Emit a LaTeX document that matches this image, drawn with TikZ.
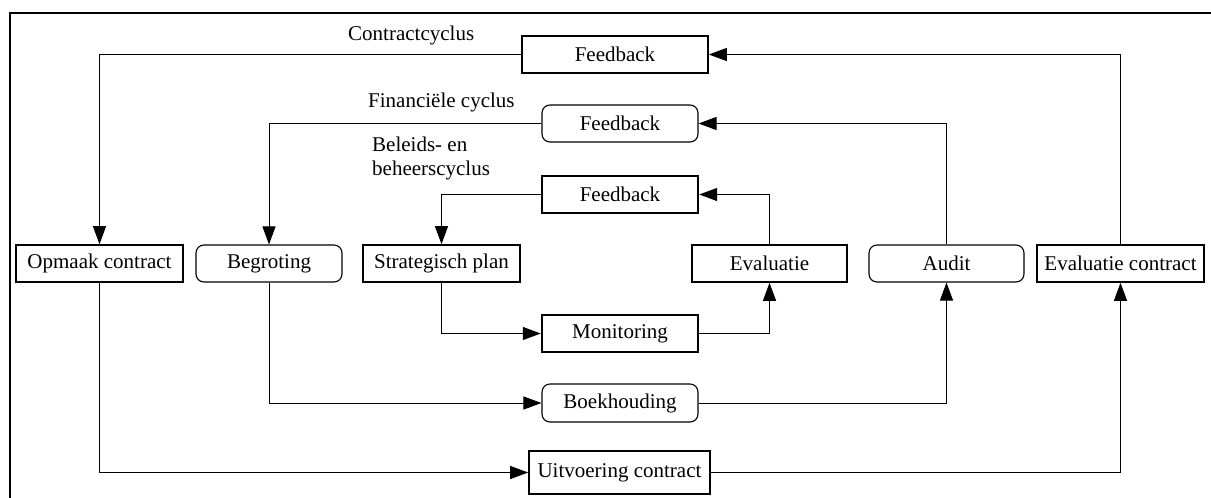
\documentclass[tikz,border=0pt]{standalone}
\usepackage{fontspec}
\setmainfont{Liberation Serif}
\usetikzlibrary{arrows.meta}
\begin{document}
\begin{tikzpicture}[x=1pt,y=-1pt,
  font=\fontsize{21}{24}\selectfont,
  sbox/.style={draw,line width=1.6pt,inner sep=0pt,minimum height=37pt},
  rbox/.style={draw,line width=1.1pt,rounded corners=8pt,inner sep=0pt,minimum height=37pt},
  tbox/.style={sbox,line width=2.4pt},
  conn/.style={line width=1pt,-{Triangle[length=18pt,width=13pt]}},
  lbl/.style={anchor=base west,inner sep=0pt}]
\useasboundingbox (0,0) rectangle (1211,498);
\begin{scope}
\clip (0,0) rectangle (1211,498);
\draw[line width=2pt] (10,13) rectangle (1230,520);
\end{scope}
% main row
\node[sbox,minimum width=167pt] (op) at (99.5,263.5) {Opmaak contract};
\node[rbox,minimum width=146pt] (beg) at (269,263.5) {Begroting};
\node[sbox,minimum width=157pt] (sp) at (441.5,263.5) {Strategisch plan};
\node[sbox,minimum width=155pt] (ev) at (769.5,263.5) {Evaluatie};
\node[rbox,minimum width=155pt] (au) at (946.5,263.5) {Audit};
\node[sbox,minimum width=167pt] (ec) at (1120.5,263.5) {Evaluatie contract};
% feedback boxes
\node[sbox,minimum width=186pt] (fb1) at (615,54.5) {Feedback};
\node[rbox,minimum width=156pt] (fb2) at (620,123.5) {Feedback};
\node[tbox,minimum width=156pt] (fb3) at (620,194.5) {Feedback};
% lower boxes
\node[tbox,minimum width=156pt] (mon) at (620,333.5) {Monitoring};
\node[rbox,minimum width=156pt,minimum height=38pt] (boek) at (620,403) {Boekhouding};
\node[sbox,minimum width=181pt,minimum height=43pt] (uit) at (619.5,472.5) {Uitvoering contract};
% labels
\node[lbl] (l1) at (348,40) {Contractcyclus};
\node[lbl] (l2) at (368,107) {Financiële cyclus};
\node[lbl,align=left,anchor=north west] (l3) at (372,137) {Beleids- en\\beheerscyclus};
% contract cycle
\draw[conn] (fb1.west) -| (op.north);
\draw[conn] (ec.north) |- (fb1.east);
\draw[conn] (op.south) |- (uit.west);
\draw[conn] (uit.east) -| (ec.south);
% financial cycle
\draw[conn] (fb2.west) -| (beg.north);
\draw[conn] (au.north) |- (fb2.east);
\draw[conn] (beg.south) |- (boek.west);
\draw[conn] (boek.east) -| (au.south);
% policy cycle
\draw[conn] (fb3.west) -| (sp.north);
\draw[conn] (ev.north) |- (fb3.east);
\draw[conn] (sp.south) |- (mon.west);
\draw[conn] (mon.east) -| (ev.south);
\end{tikzpicture}
\end{document}
